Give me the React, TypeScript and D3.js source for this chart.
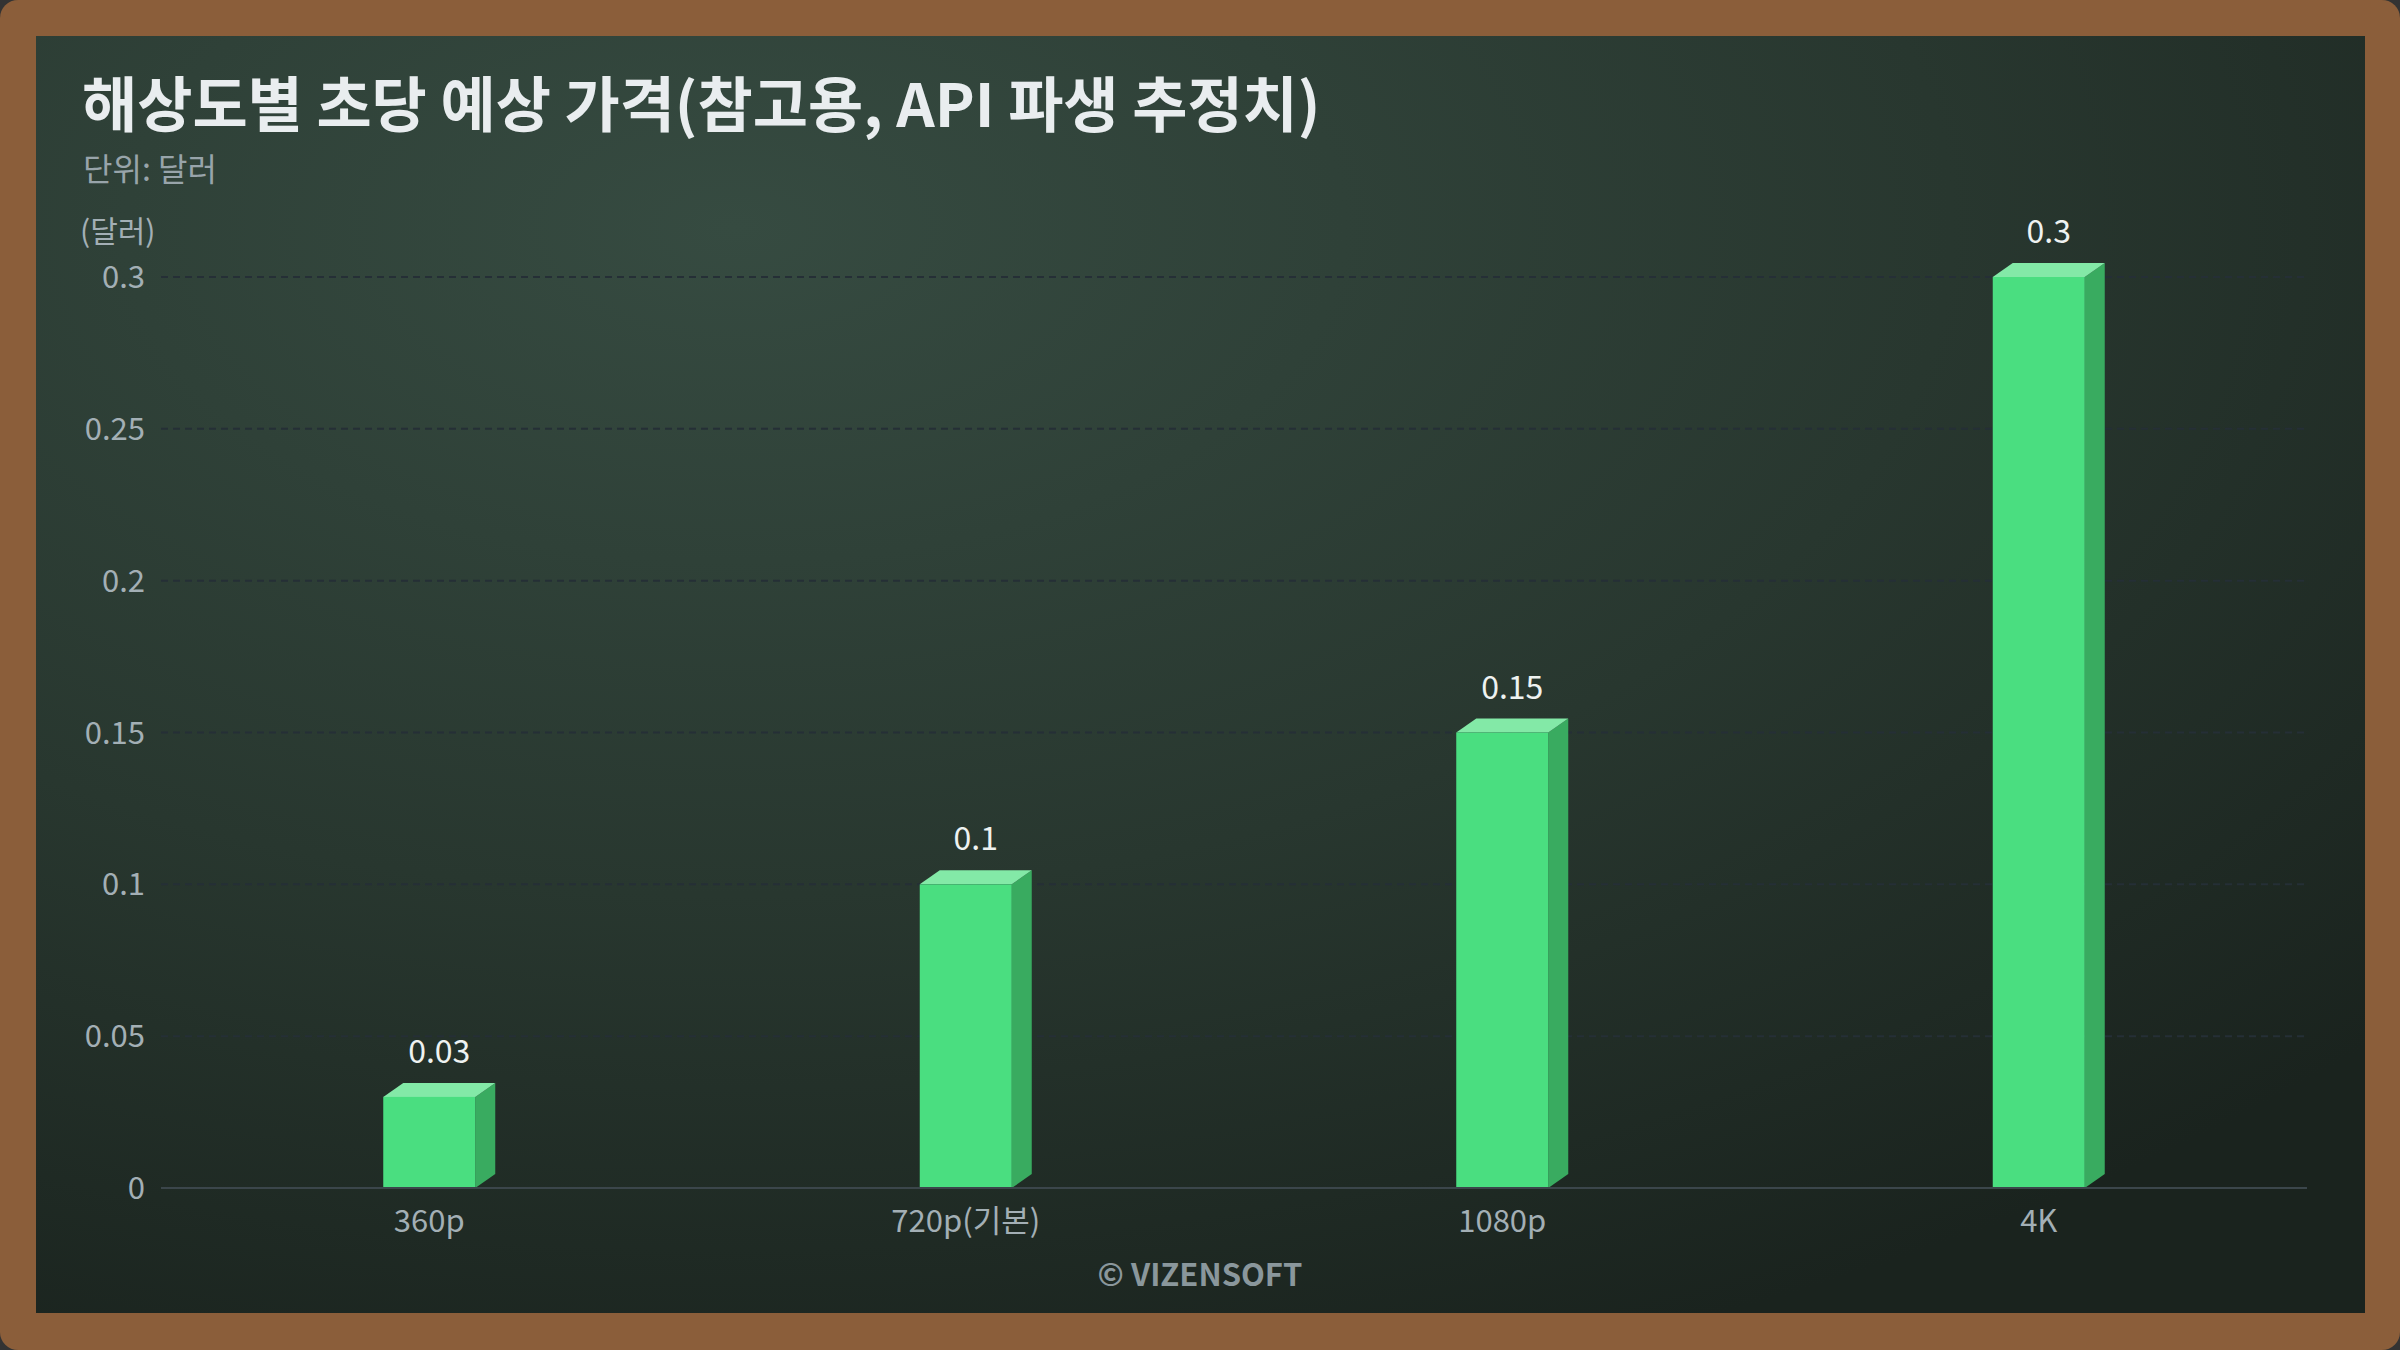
import { useEffect, useRef } from "react";
import * as d3 from "d3";

const categories = ["360p", "720p(기본)", "1080p", "4K"];
const prices = [0.03, 0.1, 0.15, 0.3];
const yTicks = [0, 0.05, 0.1, 0.15, 0.2, 0.25, 0.3];

const W = 2400;
const H = 1350;
const FONT = "'Noto Sans CJK KR', 'Noto Sans', sans-serif";

export default function App() {
  const ref = useRef<SVGSVGElement>(null);

  useEffect(() => {
    if (!ref.current) return;
    document.body.style.margin = "0";
    document.body.style.background = "#333";

    const svg = d3.select(ref.current);
    svg.selectAll("*").remove();

    const defs = svg.append("defs");
    const bg = defs.append("radialGradient")
      .attr("id", "board")
      .attr("cx", "0.3").attr("cy", "0.15").attr("r", "0.95")
      .attr("gradientUnits", "objectBoundingBox");
    bg.append("stop").attr("offset", "0").attr("stop-color", "#364b41");
    bg.append("stop").attr("offset", "0.55").attr("stop-color", "#28372f");
    bg.append("stop").attr("offset", "1").attr("stop-color", "#1a231e");

    // frame
    svg.append("rect").attr("width", W).attr("height", H).attr("rx", 18).attr("fill", "#8b5e3a");
    svg.append("rect")
      .attr("x", 36).attr("y", 36)
      .attr("width", 2365 - 36).attr("height", 1313 - 36)
      .attr("fill", "url(#board)");

    // title
    svg.append("text")
      .attr("x", 82).attr("y", 127)
      .attr("font-family", FONT).attr("font-weight", 700).attr("font-size", 60)
      .attr("fill", "#e9edef")
      .text("해상도별 초당 예상 가격(참고용, API 파생 추정치)");
    svg.append("text")
      .attr("x", 83).attr("y", 181)
      .attr("font-family", FONT).attr("font-size", 32)
      .attr("fill", "#98a4aa")
      .text("단위: 달러");
    svg.append("text")
      .attr("x", 80).attr("y", 242)
      .attr("font-family", FONT).attr("font-size", 30)
      .attr("fill", "#a3afb5")
      .text("(달러)");

    const x = d3.scaleBand<string>().domain(categories).range([161, 2307]).padding(0);
    const y = d3.scaleLinear().domain([0, 0.3]).range([1188, 277]);

    // grid
    const grid = svg.append("g");
    grid.selectAll("line")
      .data(yTicks.filter((t) => t > 0))
      .join("line")
      .attr("x1", 161).attr("x2", 2307)
      .attr("y1", (d) => y(d)).attr("y2", (d) => y(d))
      .attr("stroke", "#252f36").attr("stroke-width", 2)
      .attr("stroke-dasharray", "7,5");

    grid.selectAll("text")
      .data(yTicks)
      .join("text")
      .attr("x", 145).attr("y", (d) => y(d) + 11)
      .attr("text-anchor", "end")
      .attr("font-family", FONT).attr("font-size", 31)
      .attr("fill", "#a3afb5")
      .text((d) => String(d));

    // bars
    const barW = 92;
    const dx = 20;
    const dy = 14;
    const bars = svg.append("g").selectAll("g").data(categories).join("g");
    bars.each(function (c, i) {
      const g = d3.select(this);
      const cx = (x(c) as number) + x.bandwidth() / 2;
      const x0 = cx - barW / 2;
      const x1 = cx + barW / 2;
      const yt = y(prices[i]);
      const yb = y(0);
      g.append("path")
        .attr("d", `M${x1},${yt}L${x1 + dx},${yt - dy}L${x1 + dx},${yb - dy}L${x1},${yb}Z`)
        .attr("fill", "#39ab60");
      g.append("path")
        .attr("d", `M${x0},${yt}L${x0 + dx},${yt - dy}L${x1 + dx},${yt - dy}L${x1},${yt}Z`)
        .attr("fill", "#83e9a7");
      g.append("rect")
        .attr("x", x0).attr("y", yt)
        .attr("width", barW).attr("height", yb - yt)
        .attr("fill", "#4ade80");
      g.append("text")
        .attr("x", cx + dx / 2).attr("y", yt - dy - 20)
        .attr("text-anchor", "middle")
        .attr("font-family", FONT).attr("font-size", 32)
        .attr("fill", "#eef2f1")
        .text(String(prices[i]));
    });

    // axis line
    svg.append("line")
      .attr("x1", 161).attr("x2", 2307)
      .attr("y1", y(0)).attr("y2", y(0))
      .attr("stroke", "#3b464b").attr("stroke-width", 2);

    svg.append("g").selectAll("text")
      .data(categories)
      .join("text")
      .attr("x", (d) => (x(d) as number) + x.bandwidth() / 2)
      .attr("y", 1232)
      .attr("text-anchor", "middle")
      .attr("font-family", FONT).attr("font-size", 31)
      .attr("fill", "#a3afb5")
      .text((d) => d);

    svg.append("text")
      .attr("x", 1200).attr("y", 1286)
      .attr("text-anchor", "middle")
      .attr("font-family", FONT).attr("font-weight", 700).attr("font-size", 31)
      .attr("fill", "#8a979c")
      .text("© VIZENSOFT");
  }, []);

  return <svg ref={ref} width={W} height={H} style={{ display: "block" }} />;
}
